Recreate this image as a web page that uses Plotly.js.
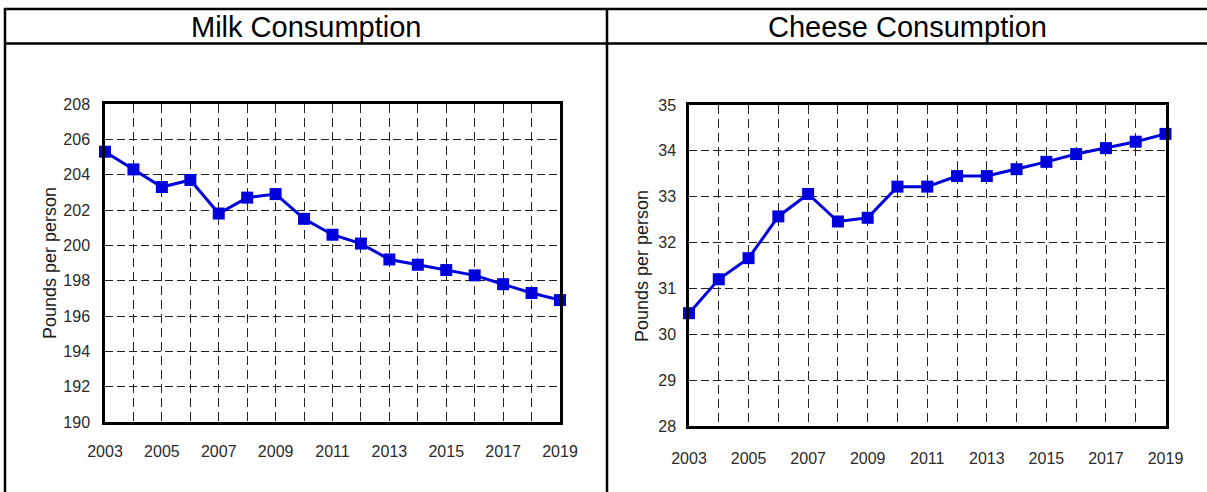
<!DOCTYPE html>
<html>
<head>
<meta charset="utf-8">
<script src="https://cdn.plot.ly/plotly-3.0.1.min.js"></script>
<style>
  html, body { margin: 0; padding: 0; background: #ffffff; }
  #chart { width: 1207px; height: 492px; }
</style>
</head>
<body>
<div id="chart"></div>
<script>
// ---- data ----
const years = [2003, 2004, 2005, 2006, 2007, 2008, 2009, 2010, 2011, 2012, 2013, 2014, 2015, 2016, 2017, 2018, 2019];
const milkValues = [205.3, 204.3, 203.3, 203.7, 201.8, 202.7, 202.9, 201.5, 200.6, 200.1, 199.2, 198.9, 198.6, 198.3, 197.8, 197.3, 196.9];
const cheeseValues = [30.46, 31.2, 31.66, 32.57, 33.06, 32.46, 32.54, 33.22, 33.22, 33.45, 33.45, 33.6, 33.76, 33.93, 34.06, 34.2, 34.37];
const panelTitles = ["Milk Consumption", "Cheese Consumption"];
const yAxisTitle = "Pounds per person";
const milkYTicks = [190, 192, 194, 196, 198, 200, 202, 204, 206, 208];
const cheeseYTicks = [28, 29, 30, 31, 32, 33, 34, 35];
const xTickYears = [2003, 2005, 2007, 2009, 2011, 2013, 2015, 2017, 2019];

// ---- layout helpers (pixel -> paper) ----
const W = 1207, H = 492;
const X = px => px / W;
const Y = py => 1 - py / H;

const FONT = "Liberation Sans, Arial, Helvetica, sans-serif";
const BLUE = "#0000dc";

function lineTrace(y, xa, ya) {
  return {
    x: years, y: y, xaxis: xa, yaxis: ya,
    type: "scatter", mode: "lines+markers",
    line: { color: BLUE, width: 3 },
    marker: { symbol: "square", size: 12, color: BLUE },
    cliponaxis: false,
    hoverinfo: "x+y",
    showlegend: false
  };
}

function xAxis(domain, anchor, standoff) {
  return {
    domain: domain, anchor: anchor,
    range: [2003, 2019],
    tickmode: "array", tickvals: xTickYears, ticktext: xTickYears.map(String),
    ticks: "", ticklabelstandoff: standoff,
    showgrid: true, gridcolor: "#222222", gridwidth: 1.3, griddash: "9px,5px",
    minor: { dtick: 1, tick0: 2003, showgrid: true, gridcolor: "#222222", gridwidth: 1.3, griddash: "9px,5px" },
    showline: true, mirror: true, linecolor: "#000000", linewidth: 2.5,
    zeroline: false,
    tickfont: { family: FONT, size: 16, color: "#2a2a2a" },
    fixedrange: true
  };
}

function yAxis(domain, anchor, range, tickvals, standoff) {
  return {
    domain: domain, anchor: anchor,
    range: range,
    tickmode: "array", tickvals: tickvals, ticktext: tickvals.map(String),
    ticks: "", ticklabelstandoff: standoff,
    showgrid: true, gridcolor: "#222222", gridwidth: 1.3, griddash: "8px,4px",
    showline: true, mirror: true, linecolor: "#000000", linewidth: 2.5,
    zeroline: false,
    tickfont: { family: FONT, size: 16, color: "#2a2a2a" },
    fixedrange: true
  };
}

const data = [
  lineTrace(milkValues, "x", "y"),
  lineTrace(cheeseValues, "x2", "y2")
];

const tableLine = { color: "#000000", width: 2.5 };
const shapes = [
  { type: "line", xref: "paper", yref: "paper", x0: X(4), x1: X(1207), y0: Y(9), y1: Y(9), line: tableLine },
  { type: "line", xref: "paper", yref: "paper", x0: X(4), x1: X(1207), y0: Y(43.5), y1: Y(43.5), line: tableLine },
  { type: "line", xref: "paper", yref: "paper", x0: X(5), x1: X(5), y0: Y(8), y1: Y(492), line: tableLine },
  { type: "line", xref: "paper", yref: "paper", x0: X(607), x1: X(607), y0: Y(8), y1: Y(492), line: tableLine }
];

const annotations = [
  { text: panelTitles[0], xref: "paper", yref: "paper", x: X(306), y: Y(27), xanchor: "center", yanchor: "middle",
    showarrow: false, font: { family: FONT, size: 29, color: "#000000" } },
  { text: panelTitles[1], xref: "paper", yref: "paper", x: X(907), y: Y(27), xanchor: "center", yanchor: "middle",
    showarrow: false, font: { family: FONT, size: 29, color: "#000000" } },
  { text: yAxisTitle, xref: "paper", yref: "paper", x: X(50), y: Y(263), xanchor: "center", yanchor: "middle",
    textangle: -90, showarrow: false, font: { family: FONT, size: 18, color: "#1a1a1a" } },
  { text: yAxisTitle, xref: "paper", yref: "paper", x: X(642), y: Y(266), xanchor: "center", yanchor: "middle",
    textangle: -90, showarrow: false, font: { family: FONT, size: 18, color: "#1a1a1a" } }
];

const layout = {
  width: W, height: H, autosize: false,
  margin: { l: 0, r: 0, t: 0, b: 0, pad: 0 },
  paper_bgcolor: "#ffffff", plot_bgcolor: "#ffffff",
  font: { family: FONT, color: "#000000" },
  showlegend: false,
  xaxis: xAxis([X(105), X(560)], "y", 13),
  yaxis: yAxis([Y(422), Y(104)], "x", [190, 208], milkYTicks, 9),
  xaxis2: xAxis([X(689), X(1165.5)], "y2", 16),
  yaxis2: yAxis([Y(426), Y(105)], "x2", [28, 35], cheeseYTicks, 7),
  shapes: shapes,
  annotations: annotations
};

Plotly.newPlot("chart", data, layout, { displayModeBar: false, staticPlot: false, responsive: false });
</script>
</body>
</html>
